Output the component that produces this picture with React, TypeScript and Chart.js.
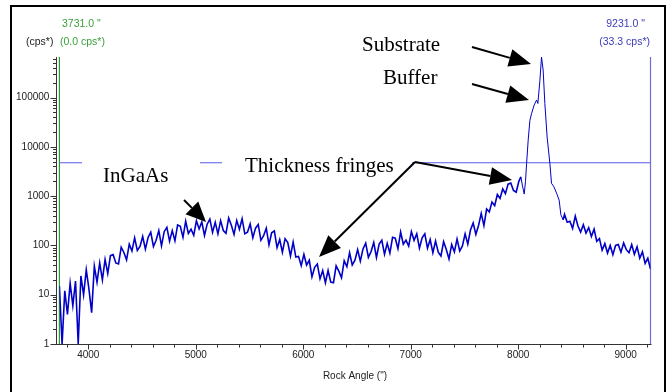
import React, { useEffect, useRef } from 'react';
import { Chart, registerables } from 'chart.js';

Chart.register(...registerables);

// ---- Data (counts per second vs. rock angle in arcsec) ----
const scanStart = 3731;
const scanStep = 25;
// 3731 .. 8006 arcsec, step 25
const lowCounts = [
  15, 1, 12, 4, 17, 6, 19, 1, 24, 10,
  32, 13, 4.3, 38, 18, 44, 20, 52, 27, 62,
  65, 44, 42, 92, 72, 51, 106, 77, 142, 79,
  95, 152, 84, 145, 185, 95, 127, 200, 98, 190,
  232, 122, 200, 124, 260, 245, 146, 310, 175, 213,
  160, 316, 216, 300, 159, 270, 343, 184, 294, 172,
  318, 201, 176, 360, 257, 167, 321, 213, 348, 172,
  186, 272, 143, 224, 266, 127, 157, 224, 103, 181,
  197, 90, 132, 73, 137, 114, 61, 117, 58, 60,
  39, 66, 40, 50, 23, 36, 42, 21, 31, 17.5,
  31, 18, 17.5, 38.5, 30, 22, 49, 37, 71, 40,
  50, 82, 48, 85, 111, 57, 75, 115, 57, 107,
  127, 66, 110, 70, 146, 140, 86, 187, 106, 128,
  97, 190, 127, 172, 88, 142, 172, 88, 132, 71,
  123, 73, 61, 119, 83, 53, 104, 74, 135, 77,
  98, 172, 106, 205, 286, 168, 254, 447, 253, 548,
  480, 760, 640, 1080, 900, 1400, 1120, 1750, 1850, 1300,
  1200, 2000,
];
// Buffer + substrate peak region
const peakAngles = [
  8025, 8040, 8056, 8068, 8078, 8093, 8109, 8125, 8149, 8171, 8183, 8202,
  8217, 8232, 8248, 8269, 8295, 8310, 8332, 8357, 8381, 8397, 8418,
];
const peakCounts = [
  2450, 1600, 1100, 2000, 4570, 13800, 34700, 47900, 70800, 89100, 75900, 224000,
  661000, 363000, 75900, 15800, 4570, 1820, 1550, 1150, 830, 420, 330,
];
// 8431 .. 9231 arcsec, step 25
const tailStart = 8431;
const tailCounts = [
  426, 296, 310, 221, 395, 248, 187, 263, 178, 230,
  152, 214, 121, 138, 80, 109, 70, 100, 65, 100,
  104, 73, 112, 82, 71, 104, 66, 94, 55, 74,
  43, 55, 33,
];

const cursorLeft = 3731;
const cursorRight = 9231;
const levelLine = 4750;

const xMin = 3731;
const xMax = 9231;
const yMin = 1;
const yMax = 665000;
const xTickValues = [4000, 5000, 6000, 7000, 8000, 9000];
const yTickValues = [1, 10, 100, 1000, 10000, 100000];
const yTickLabels = ['1', '10', '100', '1000', '10000', '100000'];

const SANS = '"Liberation Sans", Arial, sans-serif';
const SERIF = '"Liberation Serif", "Times New Roman", serif';

function arrow(ctx: CanvasRenderingContext2D, x1: number, y1: number, x2: number, y2: number, hl = 22, hw = 9) {
  const a = Math.atan2(y2 - y1, x2 - x1);
  const bx = x2 - hl * Math.cos(a);
  const by = y2 - hl * Math.sin(a);
  ctx.beginPath();
  ctx.moveTo(x1, y1);
  ctx.lineTo(bx, by);
  ctx.lineWidth = 2;
  ctx.strokeStyle = '#000';
  ctx.stroke();
  ctx.beginPath();
  ctx.moveTo(x2, y2);
  ctx.lineTo(bx + hw * Math.sin(a), by - hw * Math.cos(a));
  ctx.lineTo(bx - hw * Math.sin(a), by + hw * Math.cos(a));
  ctx.closePath();
  ctx.fillStyle = '#000';
  ctx.fill();
}

const decoPlugin = {
  id: 'deco',
  beforeDraw(chart: any) {
    const ctx = chart.ctx;
    ctx.save();
    ctx.fillStyle = '#fff';
    ctx.fillRect(0, 0, chart.width, chart.height);
    ctx.restore();
  },
  afterDraw(chart: any) {
    const ctx: CanvasRenderingContext2D = chart.ctx;
    const xs = chart.scales.x;
    const ys = chart.scales.y;
    const area = chart.chartArea;
    ctx.save();

    // white label boxes hiding the level line
    ctx.fillStyle = '#fff';
    ctx.fillRect(82, 150, 118, 38);
    ctx.fillRect(222, 148, 190, 40);

    // axes lines
    ctx.strokeStyle = '#333';
    ctx.lineWidth = 1;
    ctx.beginPath();
    ctx.moveTo(56.5, area.top);
    ctx.lineTo(56.5, area.bottom + 0.5);
    ctx.moveTo(56, area.bottom + 0.5);
    ctx.lineTo(area.right + 1, area.bottom + 0.5);
    ctx.stroke();

    // y ticks (log decades with minor ticks)
    ctx.beginPath();
    for (let d = 0; d <= 6; d++) {
      for (let m = 1; m <= 9; m++) {
        const v = m * Math.pow(10, d);
        if (v < yMin || v > yMax) continue;
        const py = Math.round(ys.getPixelForValue(v)) + 0.5;
        ctx.moveTo(m === 1 ? 50.5 : 53, py);
        ctx.lineTo(56.5, py);
      }
    }
    // x ticks every 200
    for (let v = 3800; v <= xMax; v += 200) {
      const px = Math.round(xs.getPixelForValue(v)) + 0.5;
      ctx.moveTo(px, area.bottom + 0.5);
      ctx.lineTo(px, area.bottom + (v % 1000 === 0 ? 5.5 : 3.5));
    }
    ctx.stroke();

    // arrows
    arrow(ctx, 472, 47, 531, 64);
    arrow(ctx, 472, 84, 529, 100);
    arrow(ctx, 184, 200, 206, 222, 20, 9);
    arrow(ctx, 415, 162, 319, 257);
    arrow(ctx, 415, 162, 512, 180);

    // annotation text
    ctx.fillStyle = '#000';
    ctx.font = '21px ' + SERIF;
    ctx.textBaseline = 'alphabetic';
    ctx.textAlign = 'left';
    ctx.fillText('Substrate', 362, 51);
    ctx.fillText('Buffer', 383, 84);
    ctx.fillText('InGaAs', 103, 182);
    ctx.fillText('Thickness fringes', 245, 172);

    // cursor read-outs
    ctx.font = '10.5px ' + SANS;
    ctx.textBaseline = 'middle';
    ctx.fillStyle = '#222';
    ctx.fillText('(cps*)', 26, 42);
    ctx.fillStyle = '#3a9f3a';
    ctx.fillText('3731.0 "', 62, 24);
    ctx.fillText('(0.0 cps*)', 60, 42);
    ctx.fillStyle = '#3c3cb8';
    ctx.textAlign = 'right';
    ctx.fillText('9231.0 "', 645, 24);
    ctx.fillText('(33.3 cps*)', 650, 42);

    // outer frame
    ctx.strokeStyle = '#000';
    ctx.lineWidth = 2;
    ctx.strokeRect(11, 6, 654, 400);
    ctx.restore();
  },
};

export default function App() {
  const canvasRef = useRef<HTMLCanvasElement | null>(null);

  useEffect(() => {
    if (!canvasRef.current) return;
    const curve = [
      ...lowCounts.map((c, i) => ({ x: scanStart + i * scanStep, y: c })),
      ...peakAngles.map((a, i) => ({ x: a, y: peakCounts[i] })),
      ...tailCounts.map((c, i) => ({ x: tailStart + i * scanStep, y: c })),
    ];
    const chart = new Chart(canvasRef.current, {
      type: 'scatter',
      data: {
        datasets: [
          {
            data: curve, showLine: true, borderColor: '#0000c8', borderWidth: 1.6, pointRadius: 0, tension: 0,
            segment: {
              borderWidth: (c: any) => (c.p0.parsed.x >= 8020 && c.p1.parsed.x <= 8420 ? 1 : 1.6),
            },
          },
          {
            data: [{ x: xMin, y: levelLine }, { x: xMax, y: levelLine }],
            showLine: true, borderColor: '#5a5aeb', borderWidth: 1, pointRadius: 0,
          },
          {
            data: [{ x: cursorLeft, y: yMin }, { x: cursorLeft, y: yMax }],
            showLine: true, borderColor: '#2e9a2e', borderWidth: 1.2, pointRadius: 0, clip: false,
          },
          {
            data: [{ x: cursorRight, y: yMin }, { x: cursorRight, y: yMax }],
            showLine: true, borderColor: '#7070d4', borderWidth: 1.2, pointRadius: 0, clip: false,
          },
        ],
      } as any,
      options: {
        animation: false,
        responsive: false,
        devicePixelRatio: 1,
        events: [],
        layout: { padding: { left: 0, top: 57, right: 17.5, bottom: 0 } },
        plugins: { legend: { display: false }, tooltip: { enabled: false } },
        scales: {
          x: {
            type: 'linear',
            min: xMin,
            max: xMax,
            afterFit: (s: any) => { s.height = 48; },
            afterBuildTicks: (s: any) => { s.ticks = xTickValues.map((v) => ({ value: v })); },
            grid: { display: false, drawTicks: false },
            border: { display: false },
            ticks: {
              autoSkip: false, maxRotation: 0, padding: 5, color: '#222',
              font: { family: SANS, size: 10 },
              callback: (v: any) => String(v),
            },
            title: {
              display: true, text: 'Rock Angle (")', color: '#222',
              font: { family: SANS, size: 10 }, padding: { top: 0, bottom: 10 },
            },
          },
          y: {
            type: 'logarithmic',
            min: yMin,
            max: yMax,
            afterFit: (s: any) => { s.width = 59.4; },
            afterBuildTicks: (s: any) => { s.ticks = yTickValues.map((v) => ({ value: v })); },
            grid: { display: false, drawTicks: false },
            border: { display: false },
            ticks: {
              autoSkip: false, padding: 10, color: '#222',
              font: { family: SANS, size: 10 },
              callback: (v: any) => {
                const i = yTickValues.indexOf(Number(v));
                return i >= 0 ? yTickLabels[i] : '';
              },
            },
          },
        },
      } as any,
      plugins: [decoPlugin],
    });
    return () => chart.destroy();
  }, []);

  return (
    <div style={{ position: 'absolute', left: 0, top: 0, width: 668, height: 392, background: '#fff' }}>
      <canvas ref={canvasRef} width={668} height={392} style={{ display: 'block' }} />
    </div>
  );
}
